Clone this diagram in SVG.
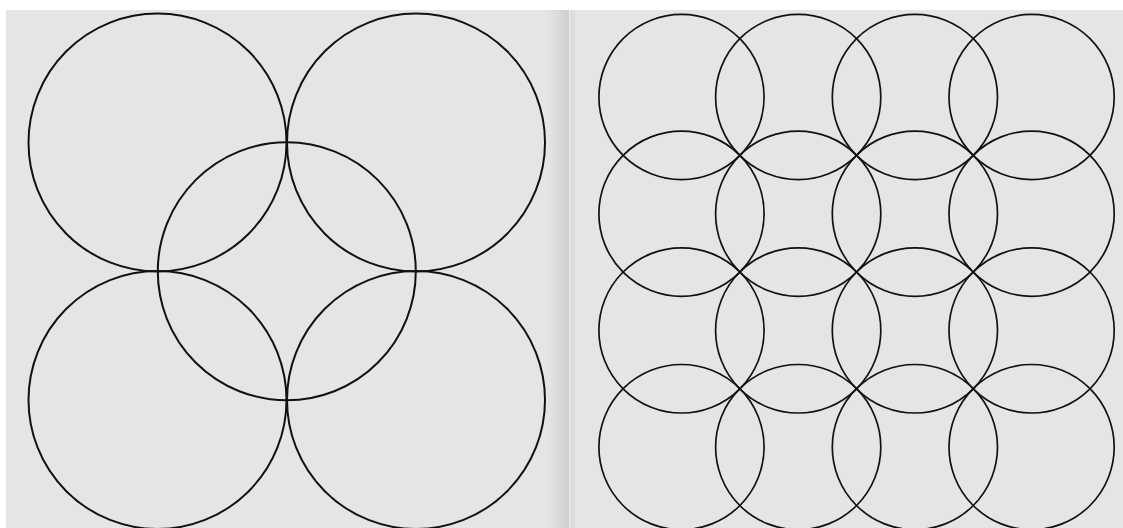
<svg xmlns="http://www.w3.org/2000/svg" width="1123" height="528" viewBox="0 0 1123 528">
  <defs>
    <linearGradient id="shadeL" x1="0" y1="0" x2="1" y2="0">
      <stop offset="0" stop-color="#e5e5e5"/>
      <stop offset="1" stop-color="#cfcfcf"/>
    </linearGradient>
    <linearGradient id="shadeR" x1="0" y1="0" x2="1" y2="0">
      <stop offset="0" stop-color="#d8d8d8"/>
      <stop offset="1" stop-color="#e5e5e5"/>
    </linearGradient>
  </defs>
  <style>
    .big { fill: none; stroke: #111; stroke-width: 2; }
    .small { fill: none; stroke: #111; stroke-width: 1.7; }
  </style>
  <rect x="0" y="0" width="1123" height="528" fill="#ffffff"/>
  <rect x="6" y="10" width="1117" height="518" fill="#e5e5e5"/>
  <rect x="548" y="10" width="21" height="518" fill="url(#shadeL)"/>
  <rect x="569" y="10" width="1.5" height="518" fill="#ececec"/>
  <rect x="570.5" y="10" width="6" height="518" fill="url(#shadeR)"/>

  <g id="left-panel">
    <g id="circle-tl"><circle class="big" cx="157.5" cy="142.5" r="129"/></g>
    <g id="circle-tr"><circle class="big" cx="416" cy="142.5" r="129"/></g>
    <g id="circle-bl"><circle class="big" cx="157.5" cy="400" r="129"/></g>
    <g id="circle-br"><circle class="big" cx="416" cy="400" r="129"/></g>
    <g id="circle-c"><circle class="big" cx="286.8" cy="271.3" r="129"/></g>
  </g>

  <g id="right-panel">
    <g id="r1c1"><circle class="small" cx="681.5" cy="97" r="82.6"/></g>
    <g id="r1c2"><circle class="small" cx="798.2" cy="97" r="82.6"/></g>
    <g id="r1c3"><circle class="small" cx="914.9" cy="97" r="82.6"/></g>
    <g id="r1c4"><circle class="small" cx="1031.6" cy="97" r="82.6"/></g>
    <g id="r2c1"><circle class="small" cx="681.5" cy="213.7" r="82.6"/></g>
    <g id="r2c2"><circle class="small" cx="798.2" cy="213.7" r="82.6"/></g>
    <g id="r2c3"><circle class="small" cx="914.9" cy="213.7" r="82.6"/></g>
    <g id="r2c4"><circle class="small" cx="1031.6" cy="213.7" r="82.6"/></g>
    <g id="r3c1"><circle class="small" cx="681.5" cy="330.4" r="82.6"/></g>
    <g id="r3c2"><circle class="small" cx="798.2" cy="330.4" r="82.6"/></g>
    <g id="r3c3"><circle class="small" cx="914.9" cy="330.4" r="82.6"/></g>
    <g id="r3c4"><circle class="small" cx="1031.6" cy="330.4" r="82.6"/></g>
    <g id="r4c1"><circle class="small" cx="681.5" cy="447.1" r="82.6"/></g>
    <g id="r4c2"><circle class="small" cx="798.2" cy="447.1" r="82.6"/></g>
    <g id="r4c3"><circle class="small" cx="914.9" cy="447.1" r="82.6"/></g>
    <g id="r4c4"><circle class="small" cx="1031.6" cy="447.1" r="82.6"/></g>
  </g>
  <g id="connectors"/>
</svg>
